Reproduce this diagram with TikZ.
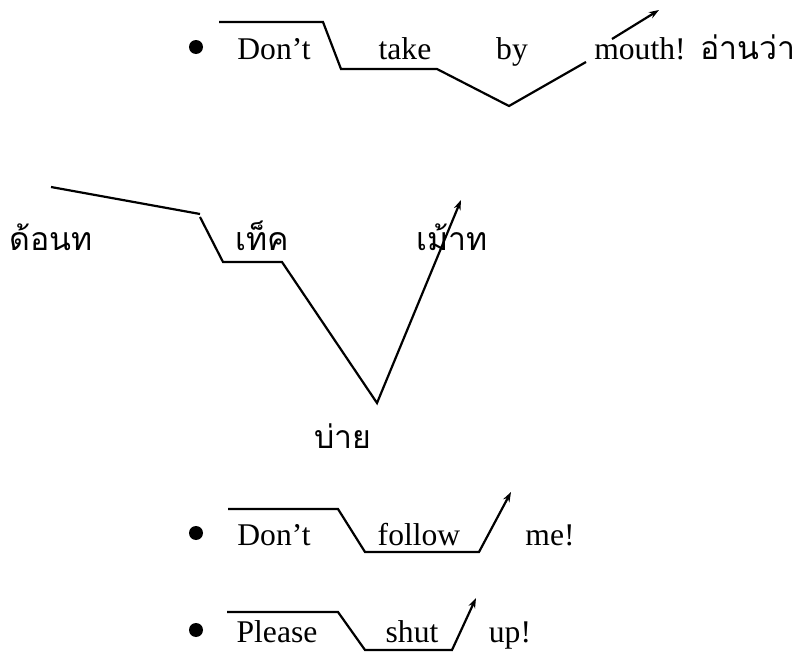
\documentclass[tikz,border=0pt]{standalone}
\usepackage{fontspec}
\setmainfont{Liberation Serif}
\newfontfamily\thaifont[Script=Thai]{Loma}
\usetikzlibrary{arrows.meta}
\tikzset{
  bullet/.style={circle, fill=black, inner sep=0pt, minimum size=7pt},
  word/.style={anchor=base, inner sep=0pt, font=\fontsize{15.8}{18}\selectfont},
  thaiword/.style={anchor=base, inner sep=0pt, font=\fontsize{16}{18}\selectfont\thaifont},
  tune/.style={line width=1.1pt},
  rise/.style={line width=1.1pt, -{Stealth[length=5pt, width=3.5pt]}}
}
\begin{document}
\begin{tikzpicture}[x=0.5pt, y=-0.5pt]
    \useasboundingbox (0,0) rectangle (800,653);

    % Don't take by mouth!
    \node [bullet] (b1) at (196,47) {};
    \node [word] (dont1) at (274,60) {Don’t};
    \node [word] (take) at (405,60) {take};
    \node [word] (by) at (512,60) {by};
    \node [word] (mouth) at (640,60) {mouth!};
    \node [thaiword] (read) at (748,60) {อ่านว่า};

    \coordinate (p1) at (219,22); \coordinate (p2) at (323,22);
    \coordinate (p3) at (341,69); \coordinate (p4) at (437,69);
    \coordinate (p5) at (509,106); \coordinate (p6) at (586,62);
    \coordinate (p7) at (612,39); \coordinate (p8) at (659,10);

    \draw [tune] (p1) -- (p2) -- (p3) -- (p4) -- (p5) -- (p6);
    \draw [rise] (p7) -- (p8);

    % Thai reading
    \node [thaiword] (don) at (51,250) {ด้อนท};
    \node [thaiword] (tek) at (262,250) {เท็ค};
    \node [thaiword] (maot) at (452,250) {เม้าท};
    \node [thaiword] (bai) at (343,448) {บ่าย};

    \coordinate (q1) at (51,187); \coordinate (q2) at (200,214);
    \coordinate (q3) at (200,217); \coordinate (q4) at (223,262);
    \coordinate (q5) at (282,262); \coordinate (q6) at (377,403);
    \coordinate (q7) at (461,200);

    \draw [tune] (q1) -- (q2);
    \draw [rise] (q3) -- (q4) -- (q5) -- (q6) -- (q7);

    % Don't follow me!
    \node [bullet] (b2) at (196,533) {};
    \node [word] (dont2) at (274,545) {Don’t};
    \node [word] (follow) at (419,545) {follow};
    \node [word] (me) at (550,545) {me!};

    \coordinate (r1) at (228,509); \coordinate (r2) at (338,509);
    \coordinate (r3) at (365,552); \coordinate (r4) at (479,552);
    \coordinate (r5) at (511,492);

    \draw [rise] (r1) -- (r2) -- (r3) -- (r4) -- (r5);

    % Please shut up!
    \node [bullet] (b3) at (196,630) {};
    \node [word] (please) at (277,642) {Please};
    \node [word] (shut) at (412,642) {shut};
    \node [word] (up) at (510,642) {up!};

    \coordinate (s1) at (227,612); \coordinate (s2) at (338,612);
    \coordinate (s3) at (365,650); \coordinate (s4) at (452,650);
    \coordinate (s5) at (476,598);

    \draw [rise] (s1) -- (s2) -- (s3) -- (s4) -- (s5);
\end{tikzpicture}
\end{document}
